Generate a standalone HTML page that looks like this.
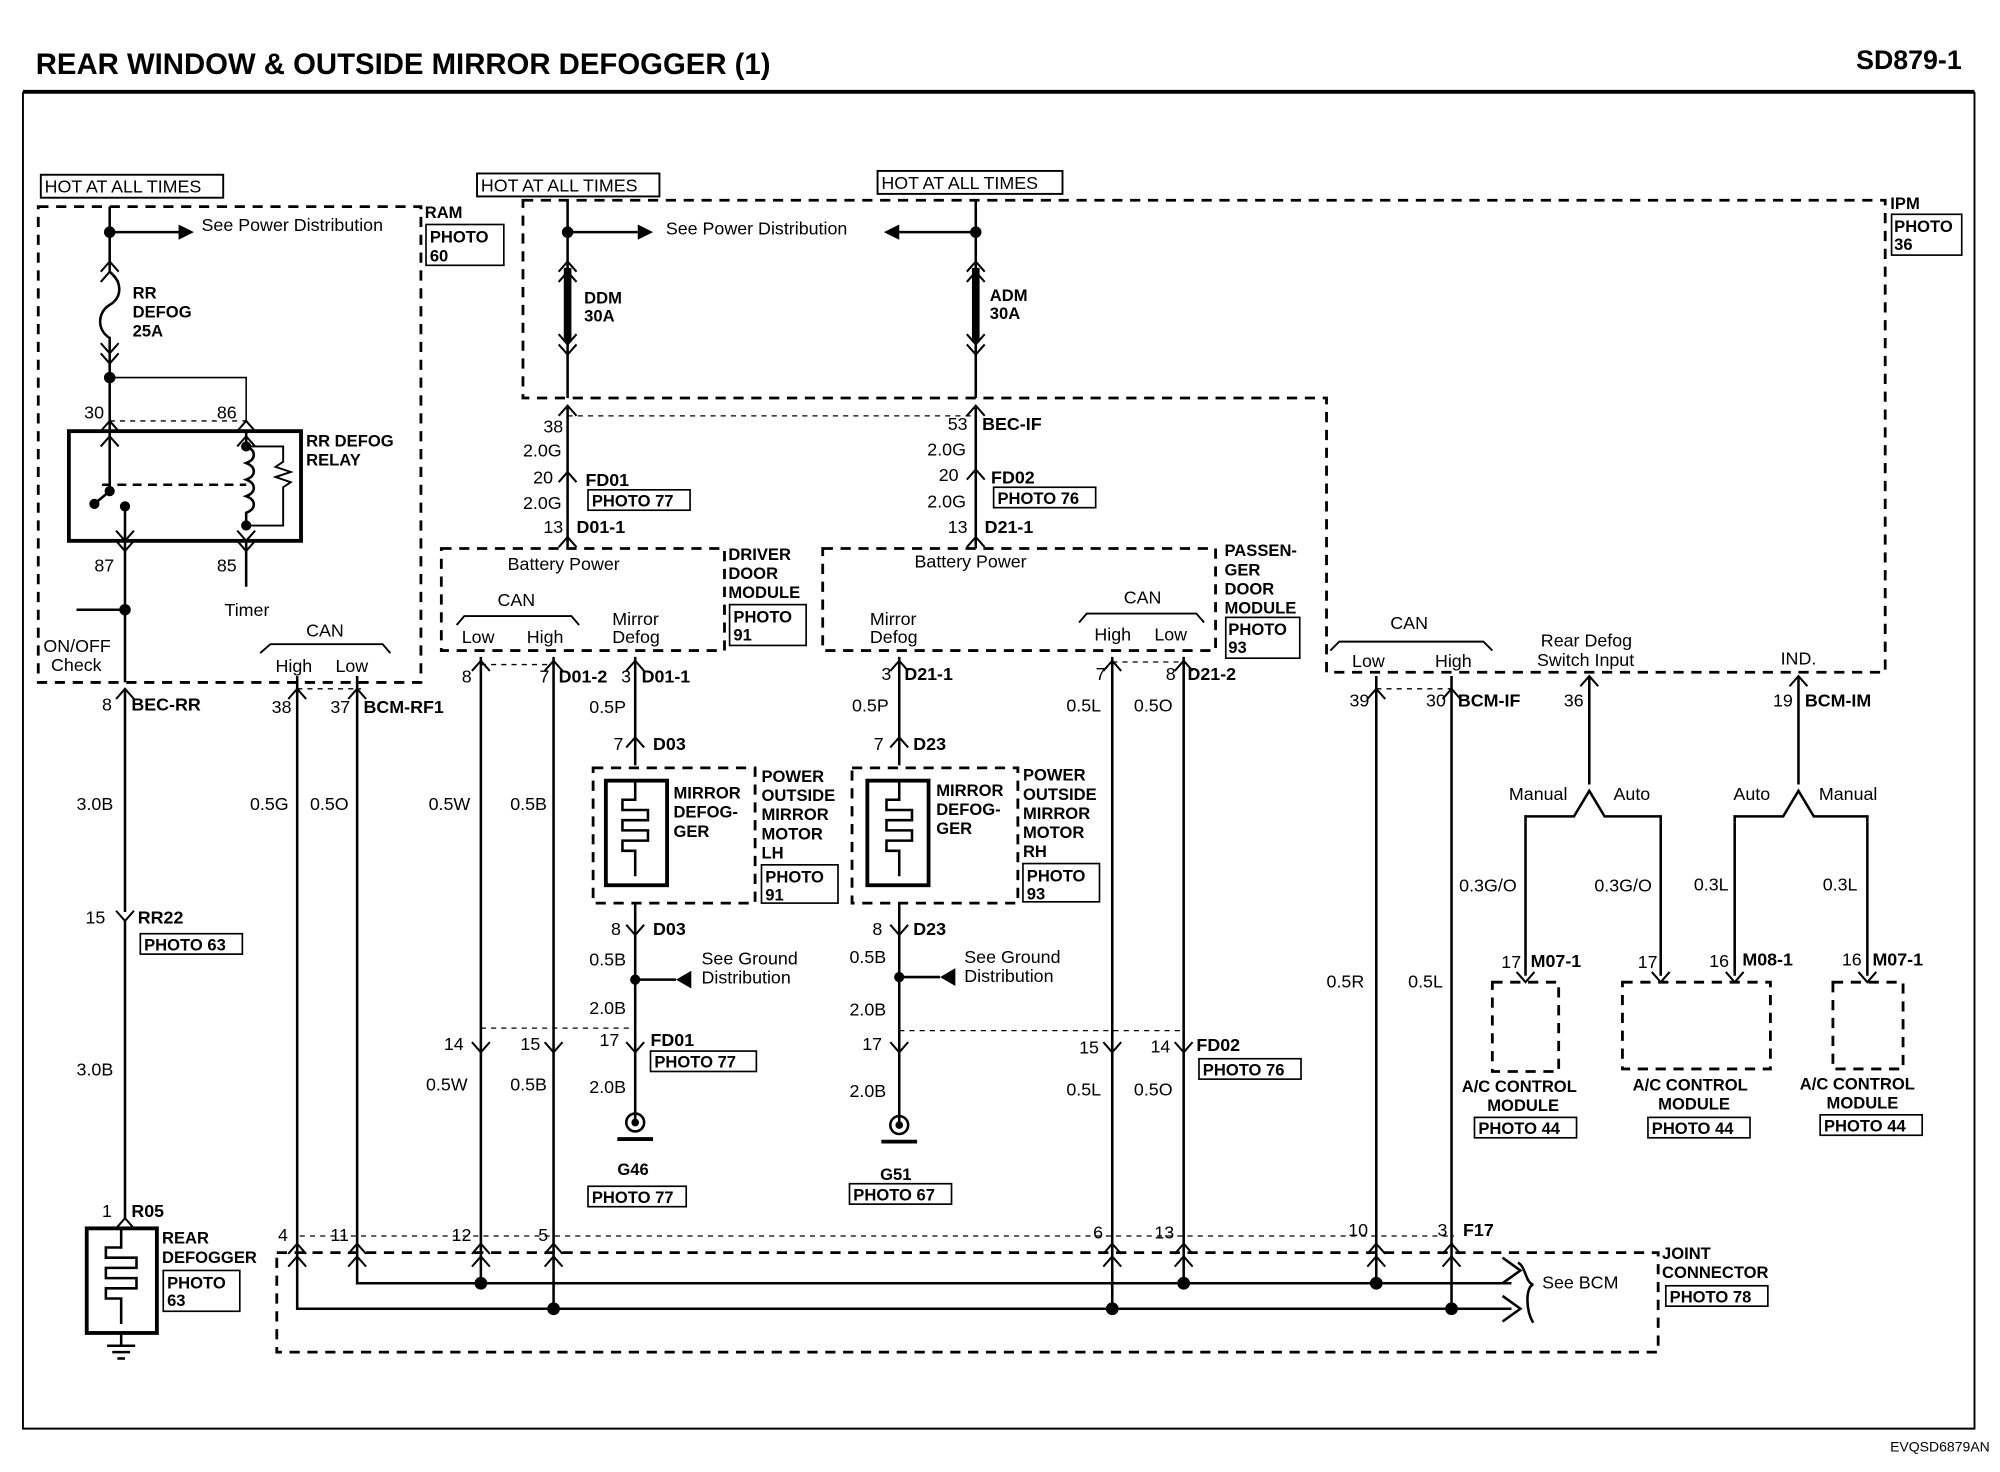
<!DOCTYPE html>
<html><head><meta charset="utf-8"><style>
html,body{margin:0;padding:0;background:#fff}
svg{display:block}
text{font-family:"Liberation Sans",sans-serif;fill:#000}
.b{font-weight:bold}
</style></head><body>
<svg width="2000" height="1472" viewBox="0 0 1568 1154" preserveAspectRatio="none" xmlns="http://www.w3.org/2000/svg">
<defs>
<path id="cu" d="M-7,8 L0,0 L7,8" fill="none" stroke="#000" stroke-width="1.6"/>
<path id="cd" d="M-7,-8 L0,0 L7,-8" fill="none" stroke="#000" stroke-width="1.6"/>
</defs>
<rect width="1568" height="1154" fill="#fff"/>
<text x="28" y="58" font-size="23" class="b">REAR WINDOW &amp; OUTSIDE MIRROR DEFOGGER (1)</text>
<text x="1538" y="54" font-size="21" class="b" text-anchor="end">SD879-1</text>
<line x1="18" y1="72" x2="1548" y2="72" stroke="#000" stroke-width="3"/>
<polyline points="18,72 18,1120 1548,1120 1548,72" fill="none" stroke="#000" stroke-width="1.5"/>
<text x="1560" y="1138" font-size="11" text-anchor="end">EVQSD6879AN</text>

<g font-size="14" fill="none" stroke="#000" stroke-width="1.5">
<rect x="32" y="137" width="143" height="18"/>
<rect x="374" y="136" width="143" height="18"/>
<rect x="688" y="134" width="145" height="18"/>
</g>
<g font-size="14">
<text x="35" y="151">HOT AT ALL TIMES</text>
<text x="377" y="150">HOT AT ALL TIMES</text>
<text x="691" y="148">HOT AT ALL TIMES</text>
</g>

<g fill="none" stroke="#000" stroke-width="2.2" stroke-dasharray="8,6">
<rect x="30" y="162" width="300" height="373"/>
<polygon points="410,157 1478,157 1478,527 1040,527 1040,312 410,312"/>
<rect x="346" y="430" width="222" height="80"/>
<rect x="645" y="430" width="308" height="80"/>
<rect x="465" y="602" width="127" height="106"/>
<rect x="668" y="602" width="130" height="106"/>
<rect x="217" y="982" width="1083" height="78"/>
<rect x="1170" y="770" width="52" height="70"/>
<rect x="1272" y="770" width="116" height="68"/>
<rect x="1437" y="770" width="55" height="68"/>
</g>
<g fill="none" stroke="#000" stroke-width="1" stroke-dasharray="4,4">
<line x1="86" y1="330" x2="193" y2="330"/>
<line x1="445" y1="326" x2="765" y2="326"/>
<line x1="377" y1="521" x2="434" y2="521"/>
<line x1="872" y1="519" x2="928" y2="519"/>
<line x1="233" y1="540" x2="283" y2="540"/>
<line x1="1079" y1="540" x2="1138" y2="540"/>
<line x1="377" y1="806" x2="498" y2="806"/>
<line x1="705" y1="808" x2="928" y2="808"/>
<line x1="235" y1="969" x2="1140" y2="969"/>
</g>

<g font-size="13" class="b">
<text x="333" y="171">RAM</text>
<text x="1482" y="164">IPM</text>
<text x="571" y="439">DRIVER</text><text x="571" y="454">DOOR</text><text x="571" y="469">MODULE</text>
<text x="960" y="436">PASSEN-</text><text x="960" y="451">GER</text><text x="960" y="466">DOOR</text><text x="960" y="481">MODULE</text>
<text x="240" y="350">RR DEFOG</text><text x="240" y="365">RELAY</text>
<text x="104" y="234">RR</text><text x="104" y="249">DEFOG</text><text x="104" y="264">25A</text>
<text x="458" y="238">DDM</text><text x="458" y="252">30A</text>
<text x="776" y="236">ADM</text><text x="776" y="250">30A</text>
<text x="528" y="626">MIRROR</text><text x="528" y="641">DEFOG-</text><text x="528" y="656">GER</text>
<text x="597" y="613">POWER</text><text x="597" y="628">OUTSIDE</text><text x="597" y="643">MIRROR</text><text x="597" y="658">MOTOR</text><text x="597" y="673">LH</text>
<text x="734" y="624">MIRROR</text><text x="734" y="639">DEFOG-</text><text x="734" y="654">GER</text>
<text x="802" y="612">POWER</text><text x="802" y="627">OUTSIDE</text><text x="802" y="642">MIRROR</text><text x="802" y="657">MOTOR</text><text x="802" y="672">RH</text>
<text x="127" y="975">REAR</text><text x="127" y="990">DEFOGGER</text>
<text x="1303" y="987">JOINT</text><text x="1303" y="1002">CONNECTOR</text>
<text x="1146" y="856">A/C CONTROL</text><text x="1166" y="871">MODULE</text>
<text x="1280" y="855">A/C CONTROL</text><text x="1300" y="870">MODULE</text>
<text x="1411" y="854">A/C CONTROL</text><text x="1432" y="869">MODULE</text>
<text x="484" y="921">G46</text><text x="690" y="925">G51</text>
</g>
<g fill="none" stroke="#000" stroke-width="1.3">
<rect x="334" y="176" width="61" height="32"/>
<rect x="1483" y="168" width="55" height="32"/>
<rect x="461" y="384" width="80" height="16"/>
<rect x="779" y="382" width="80" height="16"/>
<rect x="572" y="474" width="60" height="32"/>
<rect x="961" y="484" width="58" height="32"/>
<rect x="597" y="678" width="60" height="30"/>
<rect x="802" y="677" width="60" height="30"/>
<rect x="110" y="732" width="80" height="16"/>
<rect x="510" y="824" width="83" height="16"/>
<rect x="940" y="830" width="80" height="16"/>
<rect x="461" y="930" width="77" height="16"/>
<rect x="666" y="928" width="80" height="16"/>
<rect x="128" y="996" width="60" height="32"/>
<rect x="1306" y="1008" width="80" height="16"/>
<rect x="1156" y="876" width="80" height="16"/>
<rect x="1292" y="876" width="80" height="16"/>
<rect x="1427" y="874" width="80" height="16"/>
</g>
<g font-size="13" class="b">
<text x="337" y="190">PHOTO</text><text x="337" y="205">60</text>
<text x="1485" y="182">PHOTO</text><text x="1485" y="196">36</text>
<text x="464" y="397">PHOTO 77</text>
<text x="782" y="395">PHOTO 76</text>
<text x="575" y="488">PHOTO</text><text x="575" y="502">91</text>
<text x="963" y="498">PHOTO</text><text x="963" y="512">93</text>
<text x="600" y="692">PHOTO</text><text x="600" y="706">91</text>
<text x="805" y="691">PHOTO</text><text x="805" y="705">93</text>
<text x="113" y="745">PHOTO 63</text>
<text x="513" y="837">PHOTO 77</text>
<text x="943" y="843">PHOTO 76</text>
<text x="464" y="943">PHOTO 77</text>
<text x="669" y="941">PHOTO 67</text>
<text x="131" y="1010">PHOTO</text><text x="131" y="1024">63</text>
<text x="1309" y="1021">PHOTO 78</text>
<text x="1159" y="889">PHOTO 44</text>
<text x="1295" y="889">PHOTO 44</text>
<text x="1430" y="887">PHOTO 44</text>
</g>

<g stroke="#000" stroke-width="2" fill="none">
<line x1="86" y1="162" x2="86" y2="205"/>
<line x1="86" y1="182" x2="140" y2="182"/>
<path d="M86,205 v8 c10,8 10,20 0,26 c-10,6 -10,20 0,26 v20"/>
<line x1="86" y1="285" x2="86" y2="338"/>
<polyline points="86,296 193,296 193,330" stroke-width="1.2"/>
<line x1="86" y1="338" x2="86" y2="385"/>
<line x1="86" y1="385" x2="74" y2="395"/>
<line x1="98" y1="397" x2="98" y2="424"/>
<path d="M193,350 c8,3 8,10 0,13 c8,3 8,10 0,13 c8,3 8,10 0,13 c8,3 8,10 0,13 v10"/>
<path d="M193,350 h29 v12 l-6,4 l12,4 l-12,4 l12,4 l-6,4 v30 h-29" stroke-width="1.5"/>
<line x1="193" y1="338" x2="193" y2="350"/>
<line x1="98" y1="424" x2="98" y2="535"/>
<line x1="98" y1="478" x2="60" y2="478"/>
<line x1="193" y1="424" x2="193" y2="460"/>
<line x1="98" y1="540" x2="98" y2="715"/>
<line x1="98" y1="722" x2="98" y2="955"/>
<rect x="68" y="963" width="55" height="82" stroke-width="3"/>
<path d="M95,963 v15 h-12 v8 h24 v8 h-24 v8 h24 v8 h-24 v8 h12 v20"/>
<line x1="95" y1="1045" x2="95" y2="1055"/>
<line x1="84" y1="1055" x2="106" y2="1055"/><line x1="88" y1="1060" x2="102" y2="1060"/><line x1="92" y1="1065" x2="98" y2="1065"/>
<polyline points="204,512 212,505 300,505 306,512" stroke-width="1.5"/>
<line x1="233" y1="530" x2="233" y2="975"/>
<line x1="280" y1="530" x2="280" y2="975"/>
<line x1="445" y1="157" x2="445" y2="312"/>
<line x1="445" y1="182" x2="500" y2="182"/>
<line x1="445" y1="210" x2="445" y2="268" stroke-width="6"/>
<line x1="445" y1="318" x2="445" y2="430"/>
<line x1="765" y1="157" x2="765" y2="312"/>
<line x1="765" y1="182" x2="705" y2="182"/>
<line x1="765" y1="210" x2="765" y2="268" stroke-width="6"/>
<line x1="765" y1="318" x2="765" y2="430"/>
<polyline points="358,490 364,483 448,483 454,490" stroke-width="1.5"/>
<line x1="377" y1="515" x2="377" y2="975"/>
<line x1="434" y1="515" x2="434" y2="975"/>
<line x1="498" y1="515" x2="498" y2="600"/>
<rect x="475" y="612" width="48" height="82" stroke-width="3"/>
<path d="M498,612 v15 h-10 v8 h20 v8 h-20 v8 h20 v8 h-20 v8 h10 v20"/>
<line x1="498" y1="708" x2="498" y2="880"/>
<line x1="498" y1="768" x2="530" y2="768"/>
<line x1="705" y1="515" x2="705" y2="600"/>
<rect x="680" y="612" width="48" height="82" stroke-width="3"/>
<path d="M705,612 v15 h-10 v8 h20 v8 h-20 v8 h20 v8 h-20 v8 h10 v20"/>
<line x1="705" y1="708" x2="705" y2="880"/>
<line x1="705" y1="766" x2="737" y2="766"/>
<polyline points="846,488 852,481 938,481 944,488" stroke-width="1.5"/>
<line x1="872" y1="515" x2="872" y2="975"/>
<line x1="928" y1="515" x2="928" y2="975"/>
<polyline points="1043,510 1050,503 1163,503 1170,510" stroke-width="1.5"/>
<line x1="1079" y1="530" x2="1079" y2="975"/>
<line x1="1138" y1="530" x2="1138" y2="975"/>
<line x1="1246" y1="530" x2="1246" y2="615"/>
<polyline points="1196,645 1196,640 1234,640 1246,620 1258,640 1302,640 1302,645"/>
<line x1="1196" y1="645" x2="1196" y2="765"/>
<line x1="1302" y1="645" x2="1302" y2="765"/>
<line x1="1410" y1="530" x2="1410" y2="615"/>
<polyline points="1360,645 1360,640 1398,640 1410,620 1422,640 1464,640 1464,645"/>
<line x1="1360" y1="645" x2="1360" y2="765"/>
<line x1="1464" y1="645" x2="1464" y2="765"/>
<polyline points="233,975 233,1026 1185,1026"/>
<polyline points="280,975 280,1006 1185,1006"/>
<polyline points="1178,986 1192,996 1178,1006"/>
<polyline points="1178,1016 1192,1026 1178,1036"/>
<line x1="377" y1="975" x2="377" y2="1006"/>
<line x1="434" y1="975" x2="434" y2="1026"/>
<line x1="872" y1="975" x2="872" y2="1026"/>
<line x1="928" y1="975" x2="928" y2="1006"/>
<line x1="1079" y1="975" x2="1079" y2="1006"/>
<line x1="1138" y1="975" x2="1138" y2="1026"/>
<path d="M1190,990 c6,2 6,16 12,17 c-6,2 -6,20 0,30"/>
</g>
<g fill="#000">
<polygon points="140,176 152,182 140,188"/>
<polygon points="500,176 512,182 500,188"/>
<polygon points="705,176 693,182 705,188"/>
<polygon points="530,768 542,761 542,775"/>
<polygon points="737,766 749,759 749,773"/>
</g>
<g fill="#000">
<circle cx="86" cy="182" r="4.5"/><circle cx="86" cy="296" r="4.5"/><circle cx="98" cy="478" r="4.5"/>
<circle cx="86" cy="385" r="4"/><circle cx="74" cy="395" r="4"/><circle cx="98" cy="397" r="4"/>
<circle cx="193" cy="350" r="4"/><circle cx="193" cy="412" r="4"/>
<circle cx="445" cy="182" r="4.5"/><circle cx="765" cy="182" r="4.5"/>
<circle cx="498" cy="768" r="4"/><circle cx="705" cy="766" r="4"/>
<circle cx="377" cy="1006" r="5"/><circle cx="434" cy="1026" r="5"/><circle cx="872" cy="1026" r="5"/>
<circle cx="928" cy="1006" r="5"/><circle cx="1079" cy="1006" r="5"/><circle cx="1138" cy="1026" r="5"/>
</g>
<rect x="54" y="338" width="182" height="86" fill="none" stroke="#000" stroke-width="3"/>
<line x1="80" y1="380" x2="193" y2="380" stroke="#000" stroke-width="2" stroke-dasharray="7,5"/>
<g stroke="#000" stroke-width="2" fill="none">
<circle cx="498" cy="880" r="7"/><line x1="484" y1="893" x2="512" y2="893" stroke-width="3"/>
<circle cx="705" cy="882" r="7"/><line x1="691" y1="895" x2="719" y2="895" stroke-width="3"/>
</g>
<circle cx="498" cy="880" r="3"/><circle cx="705" cy="882" r="3"/>
<g>
<use href="#cu" x="86" y="330"/><use href="#cu" x="193" y="330"/>
<use href="#cu" x="86" y="342"/><use href="#cu" x="193" y="342"/>
<use href="#cd" x="98" y="424"/><use href="#cd" x="193" y="424"/>
<use href="#cd" x="98" y="432"/><use href="#cd" x="193" y="432"/>
<use href="#cu" x="86" y="205"/><use href="#cu" x="86" y="213"/>
<use href="#cd" x="86" y="277"/><use href="#cd" x="86" y="285"/>
<use href="#cu" x="445" y="205"/><use href="#cu" x="445" y="213"/>
<use href="#cd" x="445" y="270"/><use href="#cd" x="445" y="278"/>
<use href="#cu" x="765" y="205"/><use href="#cu" x="765" y="213"/>
<use href="#cd" x="765" y="270"/><use href="#cd" x="765" y="278"/>
<use href="#cu" x="445" y="318"/><use href="#cu" x="765" y="318"/>
<use href="#cu" x="445" y="370"/><use href="#cu" x="765" y="368"/>
<use href="#cu" x="445" y="421"/><use href="#cu" x="765" y="421"/>
<use href="#cu" x="98" y="540"/><use href="#cu" x="233" y="540"/><use href="#cu" x="280" y="540"/>
<use href="#cu" x="377" y="518"/><use href="#cu" x="434" y="518"/><use href="#cu" x="498" y="518"/>
<use href="#cu" x="705" y="518"/><use href="#cu" x="872" y="518"/><use href="#cu" x="928" y="518"/>
<use href="#cu" x="1079" y="540"/><use href="#cu" x="1138" y="540"/><use href="#cu" x="1246" y="530"/><use href="#cu" x="1410" y="530"/>
<use href="#cu" x="498" y="578"/><use href="#cu" x="705" y="578"/>
<use href="#cd" x="498" y="733"/><use href="#cd" x="705" y="733"/>
<use href="#cd" x="98" y="722"/>
<use href="#cd" x="377" y="825"/><use href="#cd" x="434" y="825"/><use href="#cd" x="498" y="825"/>
<use href="#cd" x="705" y="825"/><use href="#cd" x="872" y="825"/><use href="#cd" x="928" y="825"/>
<use href="#cu" x="98" y="955"/>
<use href="#cd" x="1196" y="770"/><use href="#cd" x="1302" y="770"/><use href="#cd" x="1360" y="770"/><use href="#cd" x="1464" y="770"/>
<use href="#cu" x="233" y="975"/><use href="#cu" x="280" y="975"/><use href="#cu" x="377" y="975"/><use href="#cu" x="434" y="975"/>
<use href="#cu" x="872" y="975"/><use href="#cu" x="928" y="975"/><use href="#cu" x="1079" y="975"/><use href="#cu" x="1138" y="975"/>
<use href="#cu" x="233" y="985"/><use href="#cu" x="280" y="985"/><use href="#cu" x="377" y="985"/><use href="#cu" x="434" y="985"/>
<use href="#cu" x="872" y="985"/><use href="#cu" x="928" y="985"/><use href="#cu" x="1079" y="985"/><use href="#cu" x="1138" y="985"/>
</g>

<g font-size="14">
<text x="158" y="181">See Power Distribution</text>
<text x="522" y="184">See Power Distribution</text>
<text x="66" y="328">30</text><text x="170" y="328">86</text>
<text x="74" y="448">87</text><text x="170" y="448">85</text>
<text x="176" y="483">Timer</text>
<text x="34" y="511">ON/OFF</text><text x="40" y="526">Check</text>
<text x="240" y="499">CAN</text>
<text x="216" y="527">High</text><text x="263" y="527">Low</text>
<text x="80" y="557">8</text><text x="103" y="557" class="b">BEC-RR</text>
<text x="213" y="559">38</text><text x="259" y="559">37</text><text x="285" y="559" class="b">BCM-RF1</text>
<text x="60" y="635">3.0B</text><text x="196" y="635">0.5G</text><text x="243" y="635">0.5O</text>
<text x="67" y="724">15</text><text x="108" y="724" class="b">RR22</text>
<text x="60" y="843">3.0B</text>
<text x="80" y="954">1</text><text x="103" y="954" class="b">R05</text>
<text x="426" y="339">38</text><text x="410" y="358">2.0G</text>
<text x="418" y="379">20</text><text x="459" y="381" class="b">FD01</text>
<text x="410" y="399">2.0G</text>
<text x="426" y="418">13</text><text x="452" y="418" class="b">D01-1</text>
<text x="743" y="337">53</text><text x="770" y="337" class="b">BEC-IF</text>
<text x="727" y="357">2.0G</text>
<text x="736" y="377">20</text><text x="777" y="379" class="b">FD02</text>
<text x="727" y="398">2.0G</text>
<text x="743" y="418">13</text><text x="772" y="418" class="b">D21-1</text>
<text x="398" y="447">Battery Power</text>
<text x="717" y="445">Battery Power</text>
<text x="390" y="475">CAN</text>
<text x="362" y="504">Low</text><text x="413" y="504">High</text>
<text x="480" y="490">Mirror</text><text x="480" y="504">Defog</text>
<text x="682" y="490">Mirror</text><text x="682" y="504">Defog</text>
<text x="881" y="473">CAN</text>
<text x="858" y="502">High</text><text x="905" y="502">Low</text>
<text x="362" y="535">8</text><text x="423" y="535">7</text><text x="438" y="535" class="b">D01-2</text>
<text x="487" y="535">3</text><text x="503" y="535" class="b">D01-1</text>
<text x="691" y="533">3</text><text x="709" y="533" class="b">D21-1</text>
<text x="859" y="533">7</text><text x="914" y="533">8</text><text x="931" y="533" class="b">D21-2</text>
<text x="462" y="559">0.5P</text><text x="668" y="558">0.5P</text>
<text x="836" y="558">0.5L</text><text x="889" y="558">0.5O</text>
<text x="336" y="635">0.5W</text><text x="400" y="635">0.5B</text>
<text x="481" y="588">7</text><text x="512" y="588" class="b">D03</text>
<text x="685" y="588">7</text><text x="716" y="588" class="b">D23</text>
<text x="479" y="733">8</text><text x="512" y="733" class="b">D03</text>
<text x="684" y="733">8</text><text x="716" y="733" class="b">D23</text>
<text x="462" y="757">0.5B</text><text x="666" y="755">0.5B</text>
<text x="550" y="756">See Ground</text><text x="550" y="771">Distribution</text>
<text x="756" y="755">See Ground</text><text x="756" y="770">Distribution</text>
<text x="462" y="795">2.0B</text><text x="666" y="796">2.0B</text>
<text x="348" y="823">14</text><text x="408" y="823">15</text><text x="470" y="820">17</text><text x="510" y="820" class="b">FD01</text>
<text x="676" y="823">17</text><text x="846" y="826">15</text><text x="902" y="825">14</text><text x="938" y="824" class="b">FD02</text>
<text x="334" y="855">0.5W</text><text x="400" y="855">0.5B</text><text x="462" y="857">2.0B</text>
<text x="666" y="860">2.0B</text><text x="836" y="859">0.5L</text><text x="889" y="859">0.5O</text>
<text x="1090" y="493">CAN</text>
<text x="1060" y="523">Low</text><text x="1125" y="523">High</text>
<text x="1208" y="507">Rear Defog</text><text x="1205" y="522">Switch Input</text>
<text x="1396" y="521">IND.</text>
<text x="1058" y="554">39</text><text x="1118" y="554">30</text><text x="1143" y="554" class="b">BCM-IF</text>
<text x="1226" y="554">36</text><text x="1390" y="554">19</text><text x="1415" y="554" class="b">BCM-IM</text>
<text x="1183" y="627">Manual</text><text x="1265" y="627">Auto</text>
<text x="1359" y="627">Auto</text><text x="1426" y="627">Manual</text>
<text x="1144" y="699">0.3G/O</text><text x="1250" y="699">0.3G/O</text>
<text x="1328" y="698">0.3L</text><text x="1429" y="698">0.3L</text>
<text x="1177" y="759">17</text><text x="1200" y="758" class="b">M07-1</text>
<text x="1284" y="759">17</text><text x="1340" y="758">16</text><text x="1366" y="757" class="b">M08-1</text>
<text x="1444" y="757">16</text><text x="1468" y="757" class="b">M07-1</text>
<text x="1040" y="774">0.5R</text><text x="1104" y="774">0.5L</text>
<text x="218" y="973">4</text><text x="259" y="973">11</text><text x="354" y="973">12</text><text x="422" y="973">5</text>
<text x="857" y="971">6</text><text x="905" y="971">13</text><text x="1057" y="969">10</text><text x="1127" y="969">3</text>
<text x="1147" y="969" class="b">F17</text>
<text x="1209" y="1010">See BCM</text>
</g>
</svg>
</body></html>
